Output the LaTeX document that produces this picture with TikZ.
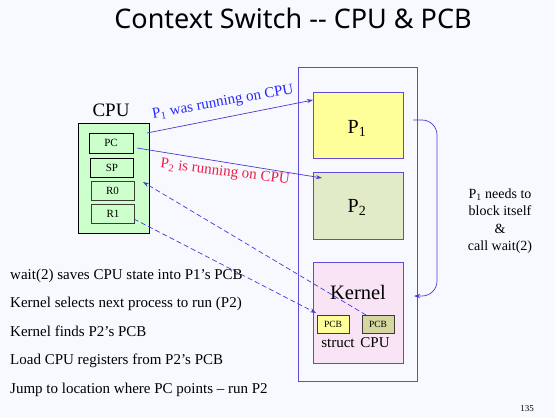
\documentclass[tikz,border=0pt]{standalone}
\usepackage{fontspec}
\setmainfont{Liberation Serif}
\newfontfamily\titlefont{Noto Sans}
\usetikzlibrary{arrows.meta,calc}
\definecolor{bg}{RGB}{248,249,255}
\definecolor{cpugreen}{RGB}{204,255,204}
\definecolor{pyellow}{RGB}{255,255,153}
\definecolor{pgreen}{RGB}{225,235,200}
\definecolor{kpink}{RGB}{248,228,244}
\definecolor{pcbolive}{RGB}{214,214,160}
\definecolor{frame}{RGB}{95,75,215}
\definecolor{arrowcol}{RGB}{75,55,210}
\definecolor{lblue}{RGB}{40,40,255}
\definecolor{lred}{RGB}{235,30,70}
\definecolor{regborder}{RGB}{60,60,50}
\tikzset{
  box/.style={draw=frame, line width=0.9pt, minimum width=#1, inner sep=0pt},
  reg/.style={draw=black, line width=0.8pt, fill=cpugreen, minimum width=43pt, minimum height=19pt, inner sep=0pt, font=\fontsize{11}{13}\selectfont},
  regg/.style={reg, draw=regborder},
  pcb/.style={draw=regborder, line width=0.8pt, minimum width=32pt, minimum height=18pt, inner sep=0pt, font=\fontsize{9.5}{11}\selectfont},
  conn/.style={draw=arrowcol, line width=0.7pt, -{Stealth[length=6pt,width=4pt]}},
  dconn/.style={conn, dash pattern=on 5pt off 3pt},
  lefttxt/.style={anchor=base west, inner sep=0pt, font=\fontsize{15}{18}\selectfont}
}
\begin{document}
\begin{tikzpicture}[x=1pt,y=-1pt]
\fill[bg] (0,0) rectangle (555,418);
\useasboundingbox (0,0) rectangle (555,418);

% title
\node[anchor=base, inner sep=0pt, font=\titlefont\fontsize{27}{30}\selectfont] (title) at (293,28) {Context Switch -- CPU \& PCB};

% CPU
\node[anchor=base, inner sep=0pt, font=\fontsize{19}{22}\selectfont] (cpulbl) at (111,116) {CPU};
\node[draw=black, line width=0.8pt, fill=cpugreen, minimum width=71pt, minimum height=110pt, inner sep=0pt] (cpu) at (113.5,178) {};
\node[reg, minimum width=44pt, minimum height=20pt] (pc) at (111,143) {PC};
\node[reg] (sp) at (112,167.5) {SP};
\node[regg] (r0) at (112.5,190.5) {R0};
\node[regg] (r1) at (113,213.5) {R1};

% memory
\node[box=119pt, minimum height=314pt] (mem) at (357.5,224) {};
\node[box=90pt, minimum height=66pt, fill=pyellow] (p1) at (358,125) {};
\node[anchor=base, inner sep=0pt, font=\fontsize{20}{24}\selectfont] (p1lbl) at (357,133) {P\textsubscript{1}};
\node[box=90pt, minimum height=67pt, fill=pgreen] (p2) at (358,205.5) {};
\node[anchor=base, inner sep=0pt, font=\fontsize{20}{24}\selectfont] (p2lbl) at (357,212) {P\textsubscript{2}};
\node[box=90pt, minimum height=101pt, fill=kpink] (kern) at (358,312.5) {};
\node[anchor=base, inner sep=0pt, font=\fontsize{20.5}{24}\selectfont] (kernlbl) at (358,299) {Kernel};
\node[pcb, fill=pyellow] (pcbs) at (333,324) {PCB};
\node[pcb, fill=pcbolive] (pcbc) at (378,324) {PCB};
\node[anchor=base, inner sep=0pt, font=\fontsize{15}{18}\selectfont] (structlbl) at (338,347) {struct};
\node[anchor=base, inner sep=0pt, font=\fontsize{15}{18}\selectfont] (cpusub) at (375,347) {CPU};

% side note
\node[align=center, inner sep=0pt, font=\fontsize{14}{17.5}\selectfont] (note) at (500,221) {P\textsubscript{1} needs to\\block itself\\\&\\call wait(2)};

% connectors
\coordinate (b1s) at (147,133);
\coordinate (b1e) at (313,100);
\coordinate (b2s) at (137,148);
\coordinate (b2e) at (322,178);
\draw[conn] (b1s) -- (b1e);
\draw[conn] (b2s) -- (b2e);
\node[rotate=10.2, inner sep=0pt, text=lblue, font=\fontsize{15}{18}\selectfont] (l1) at (223,102.5) {P\textsubscript{1} was running on CPU};
\node[rotate=-7, inner sep=0pt, text=lred, font=\fontsize{15}{18}\selectfont] (l2) at (225,172.5) {P\textsubscript{2} is running on CPU};

\coordinate (d1s) at (366,315);
\coordinate (d1e) at (143,182);
\draw[dconn] (d1s) -- (d1e);
\coordinate (d2s) at (134,219);
\coordinate (d2e) at (316,313);
\draw[dconn] (d2s) -- (d2e);

\coordinate (cs) at (413,120);
\coordinate (ce) at (414,296);
\draw[conn, rounded corners=15pt] (cs) -- (437,120) -- (437,296) -- (ce);

% left text
\node[lefttxt] (t1) at (10,279) {wait(2) saves CPU state into P1’s PCB};
\node[lefttxt] (t2) at (10,307) {Kernel selects next process to run (P2)};
\node[lefttxt] (t3) at (10,336) {Kernel finds P2’s PCB};
\node[lefttxt] (t4) at (10,364) {Load CPU registers from P2’s PCB};
\node[lefttxt] (t5) at (10,393) {Jump to location where PC points – run P2};

\node[anchor=base, inner sep=0pt, font=\fontsize{9}{11}\selectfont] (pg) at (527,411) {135};
\end{tikzpicture}
\end{document}
